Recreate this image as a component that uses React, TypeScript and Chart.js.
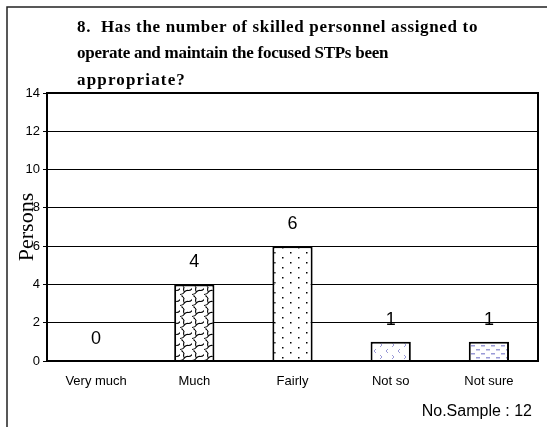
import React, { useEffect, useRef } from "react";
import { Chart, registerables } from "chart.js";

Chart.register(...registerables);

const titleLines = [
  "8.  Has the number of skilled personnel assigned to",
  "operate and maintain the focused STPs been",
  "appropriate?",
];
const categories = ["Very much", "Much", "Fairly", "Not so", "Not sure"];
const persons = [0, 4, 6, 1, 1];
const yTicks = [0, 2, 4, 6, 8, 10, 12, 14];
const axisTitle = "Persons";
const sampleNote = "No.Sample : 12";

function makePattern(w: number, h: number, draw: (c: CanvasRenderingContext2D) => void) {
  const cv = document.createElement("canvas");
  cv.width = w;
  cv.height = h;
  const c = cv.getContext("2d")!;
  c.fillStyle = "#ffffff";
  c.fillRect(0, 0, w, h);
  draw(c);
  return c.createPattern(cv, "repeat")!;
}

export default function App() {
  const ref = useRef<HTMLCanvasElement>(null);

  useEffect(() => {
    const canvas = ref.current!;
    const ctx0 = canvas.getContext("2d")!;

    const wavy = makePattern(12, 11, (c) => {
      c.strokeStyle = "#000";
      c.lineWidth = 1.1;
      c.beginPath();
      c.moveTo(0, 8.5);
      c.quadraticCurveTo(3, 8.5, 4.5, 6);
      c.quadraticCurveTo(6, 4, 8.5, 4.5);
      c.quadraticCurveTo(11, 4.5, 12, 2.5);
      c.moveTo(4.5, 6);
      c.quadraticCurveTo(3, 4, 4, 1.5);
      c.lineTo(3, 0);
      c.moveTo(3, 11);
      c.lineTo(1.5, 9.5);
      c.stroke();
    });
    const dots = makePattern(16, 10, (c) => {
      c.fillStyle = "#000";
      c.fillRect(2, 2, 1.5, 1.5);
      c.fillRect(10, 7, 1.5, 1.5);
    });
    const chevrons = makePattern(12, 12, (c) => {
      c.strokeStyle = "#9a9ad8";
      c.lineWidth = 1;
      c.beginPath();
      c.moveTo(4, 1);
      c.lineTo(2, 3);
      c.lineTo(4, 5);
      c.moveTo(8, 7);
      c.lineTo(10, 9);
      c.lineTo(8, 11);
      c.stroke();
    });
    const dashes = makePattern(10, 8, (c) => {
      c.fillStyle = "#9a9ad8";
      c.fillRect(1, 1, 4, 1.5);
      c.fillRect(6, 5, 4, 1.5);
    });

    const titleEnds = [478, 388, 186];
    const titleBases = [32, 58, 85];
    const titleX = 77;

    const decor = {
      id: "decor",
      beforeDraw(chart: any) {
        const c = chart.ctx;
        c.save();
        c.fillStyle = "#fff";
        c.fillRect(0, 0, chart.width, chart.height);
        // outer frame
        c.strokeStyle = "#222";
        c.lineWidth = 1.5;
        c.beginPath();
        c.moveTo(7, 427);
        c.lineTo(7, 7);
        c.lineTo(547, 7);
        c.stroke();
        // title
        c.fillStyle = "#000";
        c.font = "bold 17px 'Liberation Serif', 'Times New Roman', serif";
        c.textAlign = "left";
        c.textBaseline = "alphabetic";
        titleLines.forEach((t, i) => {
          (c as any).letterSpacing = "0px";
          const w = c.measureText(t).width;
          const extra = (titleEnds[i] - titleX - w) / t.length;
          (c as any).letterSpacing = `${extra.toFixed(2)}px`;
          c.fillText(t, titleX, titleBases[i]);
        });
        (c as any).letterSpacing = "0px";
        c.restore();
      },
      afterDraw(chart: any) {
        const c = chart.ctx;
        const a = chart.chartArea;
        c.save();
        c.strokeStyle = "#000";
        c.lineWidth = 2;
        c.strokeRect(a.left, a.top, a.right - a.left, a.bottom - a.top);
        // value labels
        const meta = chart.getDatasetMeta(0);
        c.fillStyle = "#000";
        c.font = "18px 'Liberation Sans', Arial, sans-serif";
        c.textAlign = "center";
        c.textBaseline = "middle";
        meta.data.forEach((bar: any, i: number) => {
          c.fillText(String(persons[i]), bar.x, bar.y - 22);
        });
        // axis title
        c.font = "22px 'Liberation Serif', 'Times New Roman', serif";
        c.translate(33, 227);
        c.rotate(-Math.PI / 2);
        c.textAlign = "center";
        c.textBaseline = "alphabetic";
        c.fillText(axisTitle, 0, 0);
        c.restore();
        // note
        c.save();
        c.fillStyle = "#000";
        c.font = "16px 'Liberation Sans', Arial, sans-serif";
        c.textAlign = "right";
        c.textBaseline = "alphabetic";
        c.fillText(sampleNote, 532, 416);
        c.restore();
      },
    };

    const chart = new Chart(ctx0, {
      type: "bar",
      data: {
        labels: categories,
        datasets: [
          {
            data: persons,
            backgroundColor: ["#ffffff", wavy, dots, chevrons, dashes] as any,
            borderColor: "#000",
            borderWidth: 2,
            barPercentage: 0.41,
            categoryPercentage: 1,
          },
        ],
      },
      options: {
        responsive: false,
        animation: false,
        devicePixelRatio: 1,
        layout: { padding: { top: 93, right: 9, left: 0, bottom: 0 } },
        plugins: {
          legend: { display: false },
          tooltip: { enabled: false },
          title: { display: false },
        },
        scales: {
          x: {
            grid: { display: false, drawTicks: false },
            border: { display: true, color: "#000", width: 2 },
            ticks: {
              color: "#000",
              padding: 13,
              font: { family: "'Liberation Sans', Arial, sans-serif", size: 13 },
              maxRotation: 0,
              autoSkip: false,
            },
            afterFit(scale: any) {
              scale.height = 66;
            },
          },
          y: {
            min: 0,
            max: 14,
            afterBuildTicks(scale: any) {
              scale.ticks = yTicks.map((v) => ({ value: v }));
            },
            grid: { color: "#000", lineWidth: 1, drawTicks: true, tickLength: 4 },
            border: { display: true, color: "#000", width: 2 },
            ticks: {
              color: "#000",
              padding: 3,
              font: { family: "'Liberation Sans', Arial, sans-serif", size: 13 },
            },
            afterFit(scale: any) {
              scale.width = 47;
            },
          },
        },
      },
      plugins: [decor],
    });
    return () => chart.destroy();
  }, []);

  return (
    <div style={{ position: "fixed", left: 0, top: 0, width: 547, height: 427, background: "#fff" }}>
      <canvas ref={ref} width={547} height={427} style={{ display: "block", width: 547, height: 427 }} />
    </div>
  );
}
